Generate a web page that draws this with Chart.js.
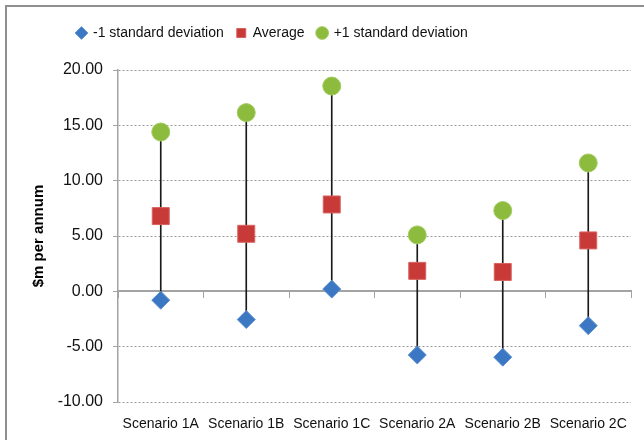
<!DOCTYPE html>
<html>
<head>
<meta charset="utf-8">
<script src="https://cdn.jsdelivr.net/npm/chart.js@4/dist/chart.umd.min.js"></script>
<style>
  body { margin: 0; background: #fff; }
  canvas { display: block; }
</style>
</head>
<body>
<canvas id="myChart" width="644" height="440"></canvas>
<script>
const categories = ['Scenario 1A', 'Scenario 1B', 'Scenario 1C', 'Scenario 2A', 'Scenario 2B', 'Scenario 2C'];
const minusOneSd = [-0.8, -2.55, 0.2, -5.75, -5.95, -3.1];
const average = [6.8, 5.2, 7.85, 1.85, 1.75, 4.6];
const plusOneSd = [14.4, 16.15, 18.55, 5.1, 7.3, 11.6];
const yTicks = [-10, -5, 0, 5, 10, 15, 20];

const FONT = "'Liberation Sans', Arial, sans-serif";
const axisGrey = '#a3a3a3';

// frame + legend placement tweaks
const chartTweaks = {
    id: 'chartTweaks',
    beforeUpdate(chart) {
        const legend = chart.legend;
        if (legend && !legend._patched) {
            const fit = legend.fit;
            legend.fit = function () {
                fit.call(this);
                this.height = 57;
            };
            legend._patched = true;
        }
    },
    afterLayout(chart) {
        chart.legend.left = 64;
    },
    beforeDraw(chart) {
        const c = chart.ctx;
        c.save();
        c.strokeStyle = '#8f8f8f';
        c.lineWidth = 2;
        c.beginPath();
        c.moveTo(6, 440);
        c.lineTo(6, 6);
        c.lineTo(644, 6);
        c.stroke();
        c.restore();
    }
};

const ctx = document.getElementById('myChart').getContext('2d');

const chart = new Chart(ctx, {
    type: 'line',
    data: {
        labels: categories,
        datasets: [
            {
                label: '-1 standard deviation',
                data: minusOneSd,
                showLine: false,
                pointStyle: 'rectRot',
                pointRadius: 9,
                backgroundColor: '#3b77c2',
                borderColor: '#5b8fd0',
                borderWidth: 1,
                order: 1,
            },
            {
                label: 'Average',
                data: average,
                showLine: false,
                pointStyle: 'rect',
                pointRadius: 12,
                backgroundColor: '#c73a38',
                borderColor: '#d9625f',
                borderWidth: 1,
                order: 1,
            },
            {
                label: '+1 standard deviation',
                data: plusOneSd,
                showLine: false,
                pointStyle: 'circle',
                pointRadius: 9,
                backgroundColor: '#8cbb3d',
                borderColor: '#a3cc5f',
                borderWidth: 1,
                order: 1,
            },
            {
                // high-low lines
                type: 'bar',
                label: 'hilo',
                data: minusOneSd.map((v, i) => [v, plusOneSd[i]]),
                backgroundColor: '#1a1a1a',
                barThickness: 1,
                order: 5,
            },
        ],
    },
    options: {
        responsive: false,
        animation: false,
        devicePixelRatio: 1,
        layout: {
            padding: { top: 13, left: 20, right: 13, bottom: 0 }
        },
        plugins: {
            tooltip: { enabled: false },
            legend: {
                position: 'top',
                align: 'start',
                labels: {
                    usePointStyle: true,
                    boxWidth: 9,
                    boxHeight: 9,
                    padding: 13,
                    color: '#111',
                    font: { family: FONT, size: 14 },
                    filter: item => item.text !== 'hilo',
                }
            }
        },
        scales: {
            x: {
                offset: true,
                grid: { display: false },
                border: { display: false },
                ticks: {
                    color: '#111',
                    padding: 6,
                    font: { family: FONT, size: 14 }
                },
                afterFit: scale => { scale.height = 38; }
            },
            x0: {
                type: 'category',
                labels: categories,
                offset: true,
                position: { y: 0 },
                grid: {
                    offset: true,
                    drawOnChartArea: false,
                    tickLength: 6,
                    color: axisGrey,
                    lineWidth: 1
                },
                border: { color: axisGrey, width: 2 },
                ticks: { display: false }
            },
            y: {
                min: -10,
                max: 20,
                afterBuildTicks: scale => {
                    scale.ticks = yTicks.map(v => ({ value: v }));
                },
                title: {
                    display: true,
                    text: '$m per annum',
                    color: '#000',
                    font: { family: FONT, size: 15, weight: 'bold' },
                    padding: { top: 10, bottom: 0 }
                },
                grid: {
                    color: '#9a9a9a',
                    lineWidth: 1,
                    tickLength: 5,
                    tickColor: axisGrey
                },
                border: {
                    color: axisGrey,
                    width: 1.5,
                    // dashed gridlines, solid axis line
                    dash: c => (c.type === 'tick' ? [2, 2] : [])
                },
                ticks: {
                    color: '#111',
                    padding: 10,
                    font: { family: FONT, size: 16 },
                    callback: v => v.toFixed(2)
                },
                afterFit: scale => { scale.width = 98; }
            }
        }
    },
    plugins: [chartTweaks]
});
</script>
</body>
</html>
